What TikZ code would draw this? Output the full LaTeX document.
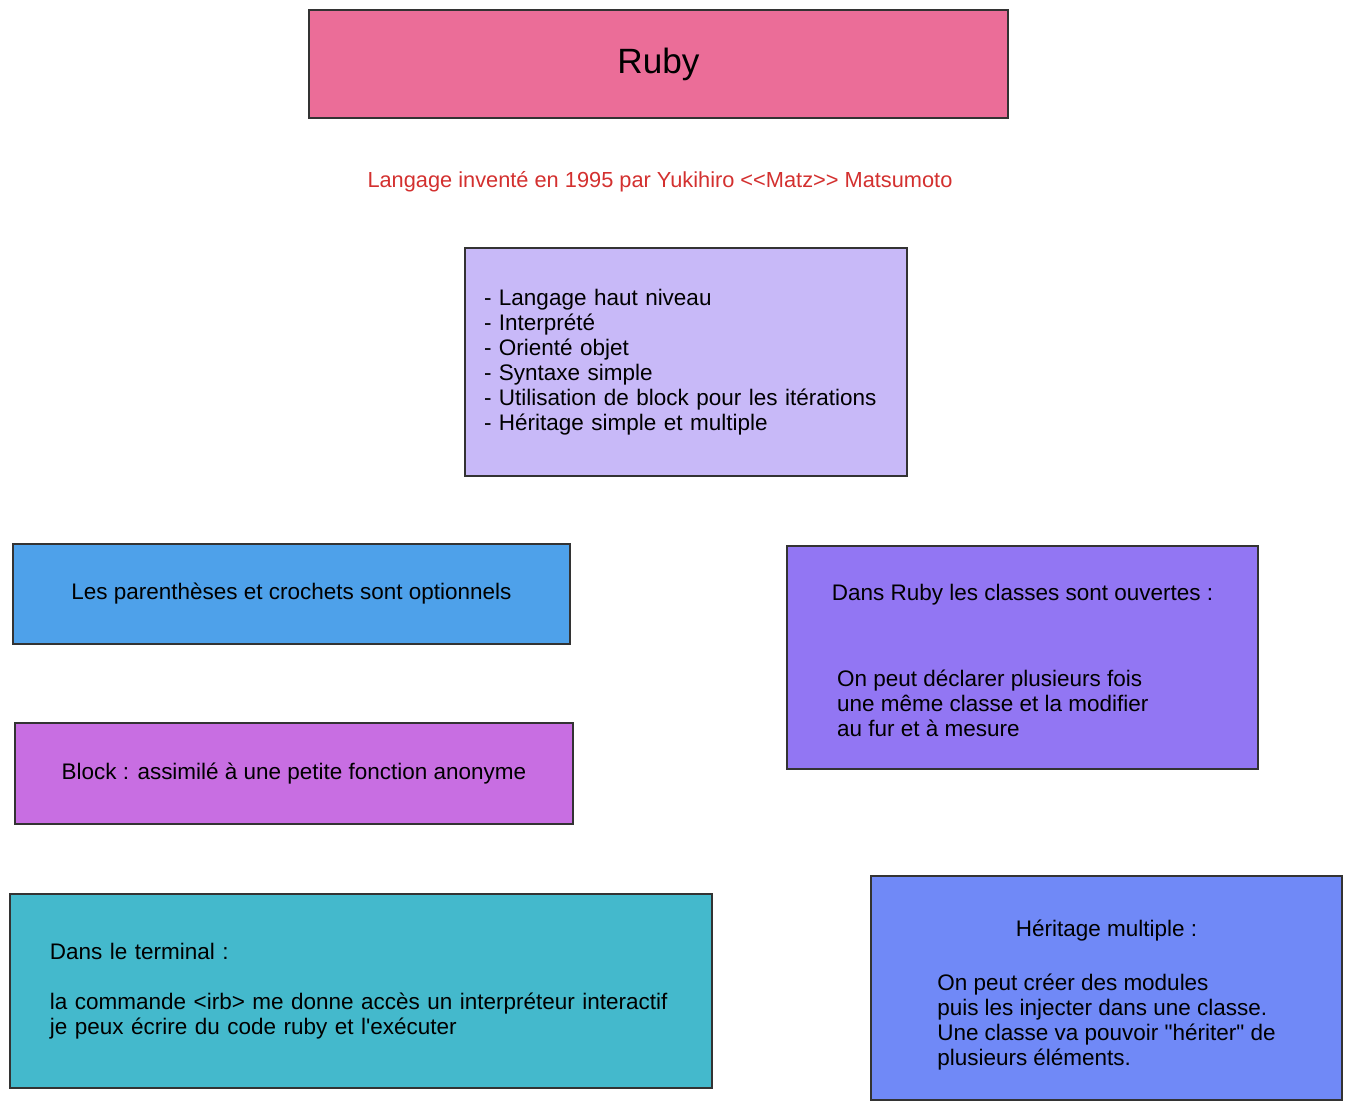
\documentclass[tikz,border=0pt]{standalone}
\usepackage{fontspec}
\setmainfont{Liberation Sans}[Ligatures=TeXOff]
\usepackage{tikz}

\definecolor{rubypink}{HTML}{EB6D98}
\definecolor{lavender}{HTML}{C8B9F8}
\definecolor{skyblue}{HTML}{4EA1EA}
\definecolor{orchid}{HTML}{C86EE2}
\definecolor{violet}{HTML}{9276F3}
\definecolor{teal}{HTML}{44B9CC}
\definecolor{cornflower}{HTML}{7089F7}
\definecolor{redtext}{HTML}{D3302F}

\tikzset{
  note/.style={draw=black!80,line width=0.9pt,rectangle,inner sep=0pt,
    font=\fontsize{12.8}{14.2}\selectfont}
}

\begin{document}
\begin{tikzpicture}[x=0.02cm,y=-0.02cm]
\useasboundingbox (0,0) rectangle (1352,1110);

\node[note,fill=rubypink,minimum width=699*0.02cm,minimum height=108*0.02cm,
  font=\fontsize{20}{24}\selectfont] (ruby) at (658.5,64) {Ruby};
\node[text=redtext,font=\fontsize{12.4}{14.2}\selectfont] (auteur) at (660,182)
  {Langage inventé en 1995 par Yukihiro <{}<Matz>{}> Matsumoto};

\node[note,fill=lavender,minimum width=442*0.02cm,minimum height=228*0.02cm,
  text width=404*0.02cm,align=left] (traits) at (686,362)
  {- Langage haut niveau\\
   - Interprété\\
   - Orienté objet\\
   - Syntaxe simple\\
   - Utilisation de block pour les itérations\\
   - Héritage simple et multiple};

\node[note,fill=skyblue,minimum width=557*0.02cm,minimum height=100*0.02cm] (parens) at (291.5,594)
  {Les parenthèses et crochets sont optionnels};
\node[note,fill=orchid,minimum width=558*0.02cm,minimum height=101*0.02cm] (block) at (294,773.5)
  {Block : assimilé à une petite fonction anonyme};

\node[note,fill=teal,minimum width=702*0.02cm,minimum height=194*0.02cm,
  text width=622*0.02cm,align=left] (terminal) at (361,991)
  {Dans le terminal :\\[14.2pt]
   la commande <irb> me donne accès un interpréteur interactif\\
   je peux écrire du code ruby et l'exécuter};

\node[note,fill=violet,minimum width=471*0.02cm,minimum height=223*0.02cm] (classes) at (1022.5,657.5)
  {\raisebox{0pt}[\dimexpr\height+0.24cm\relax][\depth]{\begin{tabular}{@{}l@{}}
   Dans Ruby les classes sont ouvertes :\\[34.7pt]
   \hspace*{3pt}On peut déclarer plusieurs fois\\
   \hspace*{3pt}une même classe et la modifier\\
   \hspace*{3pt}au fur et à mesure
   \end{tabular}}};

\node[note,fill=cornflower,minimum width=471*0.02cm,minimum height=224*0.02cm] (heritage) at (1106.5,988)
  {\raisebox{0pt}[\dimexpr\height+0.32cm\relax][\depth]{\begin{tabular}{@{}l@{}}
   \multicolumn{1}{@{}c@{}}{Héritage multiple :}\\[16.5pt]
   On peut créer des modules\\
   puis les injecter dans une classe.\\
   Une classe va pouvoir "hériter" de\\
   plusieurs éléments.
   \end{tabular}}};
\end{tikzpicture}
\end{document}
